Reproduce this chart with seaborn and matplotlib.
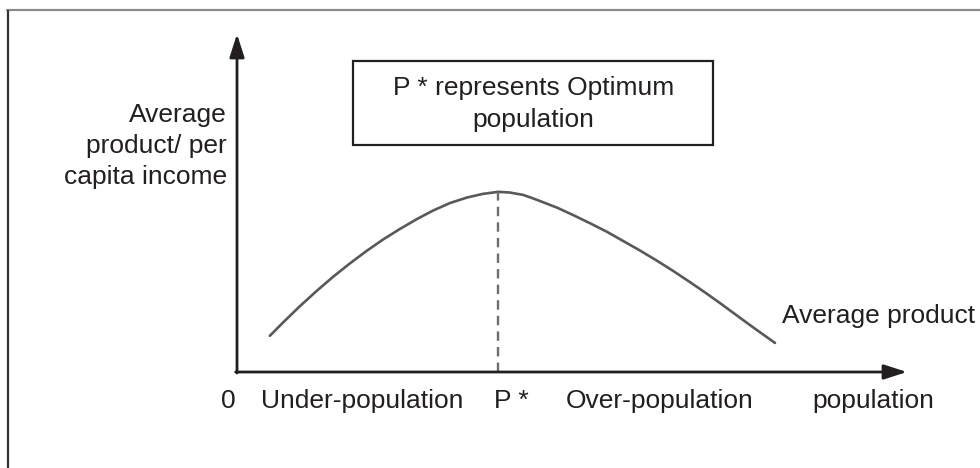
import numpy as np
import pandas as pd
import matplotlib
matplotlib.use("Agg")
import matplotlib.pyplot as plt
import seaborn as sns
from matplotlib.patches import Rectangle

# curve (population units 0-10, product units 0-10)
population = [0.49, 0.69, 0.94, 1.19, 1.43, 1.69, 1.94, 2.18, 2.43, 2.69,
              2.93, 3.18, 3.43, 3.67, 3.90, 4.07, 4.27, 4.40, 4.52, 4.78,
              5.01, 5.27, 5.52, 5.76, 6.01, 6.27, 6.51, 6.76, 7.01, 7.25,
              7.51, 7.76, 8.03]
avg_product = [1.07, 1.47, 1.95, 2.40, 2.81, 3.22, 3.59, 3.92, 4.23, 4.53,
               4.78, 5.00, 5.16, 5.27, 5.33, 5.31, 5.24, 5.15, 5.06, 4.86,
               4.65, 4.40, 4.15, 3.88, 3.60, 3.29, 2.99, 2.66, 2.32, 1.98,
               1.60, 1.24, 0.86]
p_star = 3.90
x_labels = ["0", "Under-population", "P *", "Over-population", "population"]
x_label_pos = [-0.13, 1.87, 4.09, 6.31, 9.49]
y_label = ["Average", "product/ per", "capita income"]
box_text = ["P * represents Optimum", "population"]
curve_name = "Average product"

df = pd.DataFrame({"population": population, "avg_product": avg_product})

sns.set_theme(style="white")
plt.rcParams["font.family"] = ["Liberation Sans", "DejaVu Sans"]

dark = "#231f20"
curve_col = "#58595b"

fig = plt.figure(figsize=(9.8, 4.68), dpi=100)
ax = fig.add_axes([0, 0, 1, 1])
ax.set_xlim(-237 / 67, (980 - 237) / 67)
ax.set_ylim(-(468 - 372) / 33.8, 372 / 33.8)
ax.axis("off")

# frame lines of the original picture (top and left only)
ax.axhline(10.70, xmin=7 / 980, xmax=1, color="#8a8a8a", lw=1.6)
ax.axvline(-3.425, ymin=0, ymax=(468 - 10.5) / 468, color="#333333", lw=1.6)

# axes with arrows
arrow = dict(arrowstyle="-|>,head_length=1.0,head_width=0.32", lw=2,
             color=dark, shrinkA=0, shrinkB=0, mutation_scale=14)
ax.annotate("", xy=(10, 0), xytext=(-0.02, 0), arrowprops=arrow)
ax.annotate("", xy=(0, 10), xytext=(0, -0.03), arrowprops=arrow)

# curve and optimum line
sns.lineplot(data=df, x="population", y="avg_product", ax=ax, color=curve_col,
             lw=1.9, sort=False, solid_joinstyle="round")
ax.plot([p_star, p_star], [0, max(avg_product)], color="#6d6e71", lw=1.7,
        linestyle=(0, (4, 2.6)))

# note box
ax.add_patch(Rectangle((1.73, 6.72), 7.10 - 1.73, 9.20 - 6.72, fill=False,
                       edgecolor=dark, lw=1.6))
ax.text(4.42, 8.20, box_text[0], ha="center", va="baseline", fontsize=19, color=dark)
ax.text(4.42, 7.25, box_text[1], ha="center", va="baseline", fontsize=19, color=dark)

# y label
for txt, yy in zip(y_label, [7.40, 6.48, 5.56]):
    ax.text(-0.15, yy, txt, ha="right", va="baseline", fontsize=19, color=dark)

# x labels
for txt, xx in zip(x_labels, x_label_pos):
    ax.text(xx, -1.07, txt, ha="center", va="baseline", fontsize=19, color=dark)

ax.text(8.13, 1.45, curve_name, ha="left", va="baseline", fontsize=19, color=dark)

fig.savefig("out.png", dpi=100)
